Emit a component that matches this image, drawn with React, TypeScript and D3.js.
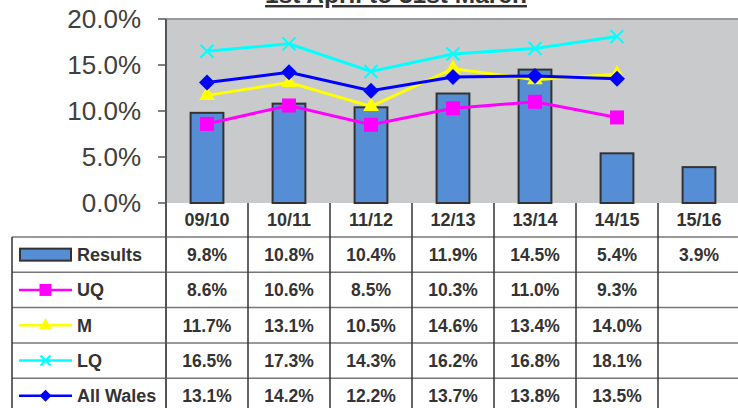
import React from 'react';
import * as d3 from 'd3';

const categories = ['09/10', '10/11', '11/12', '12/13', '13/14', '14/15', '15/16'];
const results = [9.8, 10.8, 10.4, 11.9, 14.5, 5.4, 3.9];
const uq = [8.6, 10.6, 8.5, 10.3, 11.0, 9.3, null];
const m = [11.7, 13.1, 10.5, 14.6, 13.4, 14.0, null];
const lq = [16.5, 17.3, 14.3, 16.2, 16.8, 18.1, null];
const allWales = [13.1, 14.2, 12.2, 13.7, 13.8, 13.5, null];
const yTicks = [0, 5, 10, 15, 20];

type Row = { name: string; values: (number | null)[]; color: string; kind: string };

const lineSeries: Row[] = [
  { name: 'UQ', values: uq, color: '#FF00FF', kind: 'square' },
  { name: 'M', values: m, color: '#FFFF00', kind: 'triangle' },
  { name: 'LQ', values: lq, color: '#00FFFF', kind: 'x' },
  { name: 'All Wales', values: allWales, color: '#0000FF', kind: 'diamond' },
];

const rows: Row[] = [{ name: 'Results', values: results, color: '#558ED5', kind: 'bar' }, ...lineSeries];

const W = 738;
const H = 408;
const plot = { left: 166, right: 740, top: 19, bottom: 203 };
const headerBottom = 237;
const rowH = 35.3;
const tableLeft = 12;
const font = '"Liberation Sans", Arial, sans-serif';
const textColor = '#333333';

function Marker({ kind, color, x, y, s }: { kind: string; color: string; x: number; y: number; s: number }) {
  if (kind === 'square') {
    return <path d={d3.symbol(d3.symbolSquare, s * s)()!} transform={`translate(${x},${y})`} fill={color} />;
  }
  if (kind === 'triangle') {
    return (
      <path
        d={d3.symbol(d3.symbolTriangle, (Math.sqrt(3) / 4) * s * s * 1.1)()!}
        transform={`translate(${x},${y})`}
        fill={color}
      />
    );
  }
  if (kind === 'diamond') {
    const side = s / Math.SQRT2;
    return (
      <path d={d3.symbol(d3.symbolSquare, side * side)()!} transform={`translate(${x},${y}) rotate(45)`} fill={color} />
    );
  }
  const h = s / 2;
  return (
    <path
      d={`M${x - h},${y - h}L${x + h},${y + h}M${x - h},${y + h}L${x + h},${y - h}`}
      stroke={color}
      strokeWidth={2}
      fill="none"
    />
  );
}

export default function App() {
  const x = d3.scaleBand<string>().domain(categories).range([plot.left, plot.right]).padding(0);
  const y = d3.scaleLinear().domain([0, 20]).range([plot.bottom, plot.top]);
  const barW = x.bandwidth() * 0.4;
  const cx = (c: string) => (x(c) ?? 0) + x.bandwidth() / 2;

  const line = d3
    .line<[string, number | null]>()
    .defined((d) => d[1] !== null)
    .x((d) => cx(d[0]))
    .y((d) => y(d[1] as number));

  const markerSize: Record<string, number> = { square: 14, triangle: 15, x: 13, diamond: 16 };
  const legendSize: Record<string, number> = { square: 12, triangle: 12, x: 10, diamond: 12 };

  const rowTop = (i: number) => headerBottom + i * rowH;

  return (
    <svg width={W} height={H} style={{ position: 'absolute', left: 0, top: 0, background: '#fff' }}>
      {/* title (mostly cut off at top) */}
      <text
        x={396}
        y={3}
        textAnchor="middle"
        fontFamily={font}
        fontWeight="bold"
        fontSize={24.5}
        fill={textColor}
        style={{ textDecoration: 'underline' }}
      >
        1st April to 31st March
      </text>

      {/* plot area */}
      <rect x={plot.left} y={plot.top} width={plot.right - plot.left} height={plot.bottom - plot.top} fill="#C9CACC" />
      <line x1={plot.left} x2={plot.right} y1={plot.top} y2={plot.top} stroke="#999" strokeWidth={2} />

      {/* y axis */}
      {yTicks.map((t) => (
        <g key={t}>
          <line x1={158} x2={plot.left} y1={y(t)} y2={y(t)} stroke="#555" strokeWidth={1.5} />
          <text x={141} y={y(t)} dy="0.36em" textAnchor="end" fontFamily={font} fontSize={26} fill="#404040">
            {t.toFixed(1)}%
          </text>
        </g>
      ))}

      {/* bars */}
      {results.map((v, i) => (
        <rect
          key={i}
          x={cx(categories[i]) - barW / 2}
          y={y(v)}
          width={barW}
          height={y(0) - y(v)}
          fill="#558ED5"
          stroke="#333"
          strokeWidth={2}
        />
      ))}

      {/* lines */}
      {lineSeries.map((s) => (
        <g key={s.name}>
          <path
            d={line(categories.map((c, i) => [c, s.values[i]] as [string, number | null]))!}
            fill="none"
            stroke={s.color}
            strokeWidth={3}
          />
          {s.values.map((v, i) =>
            v === null ? null : (
              <Marker key={i} kind={s.kind} color={s.color} x={cx(categories[i])} y={y(v)} s={markerSize[s.kind]} />
            )
          )}
        </g>
      ))}

      {/* table header */}
      {categories.map((c) => (
        <text
          key={c}
          x={cx(c)}
          y={(plot.bottom + headerBottom) / 2}
          dy="0.36em"
          textAnchor="middle"
          fontFamily={font}
          fontWeight="bold"
          fontSize={18}
          fill={textColor}
        >
          {c}
        </text>
      ))}

      {/* table rows */}
      {rows.map((r, i) => {
        const cy = rowTop(i) + rowH / 2;
        return (
          <g key={r.name}>
            {r.kind === 'bar' ? (
              <rect x={20} y={cy - 6} width={51} height={12} fill={r.color} stroke="#333" strokeWidth={2} />
            ) : (
              <g>
                <line x1={19} x2={72} y1={cy} y2={cy} stroke={r.color} strokeWidth={2.5} />
                <Marker kind={r.kind} color={r.color} x={45.5} y={cy} s={legendSize[r.kind]} />
              </g>
            )}
            <text x={77} y={cy} dy="0.36em" fontFamily={font} fontWeight="bold" fontSize={18} fill={textColor}>
              {r.name}
            </text>
            {r.values.map((v, j) =>
              v === null ? null : (
                <text
                  key={j}
                  x={cx(categories[j])}
                  y={cy}
                  dy="0.36em"
                  textAnchor="middle"
                  fontFamily={font}
                  fontWeight="bold"
                  fontSize={17.5}
                  fill={textColor}
                >
                  {v.toFixed(1)}%
                </text>
              )
            )}
          </g>
        );
      })}

      {/* table grid */}
      {d3.range(rows.length + 1).map((i) => (
        <line key={i} x1={tableLeft} x2={plot.right} y1={rowTop(i)} y2={rowTop(i)} stroke="#777" strokeWidth={1.5} />
      ))}
      <line x1={tableLeft} x2={tableLeft} y1={headerBottom} y2={H} stroke="#333" strokeWidth={1.5} />
      {categories.map((c) => (
        <line key={c} x1={x(c)} x2={x(c)} y1={plot.bottom} y2={H} stroke="#333" strokeWidth={1.5} />
      ))}
      <line x1={plot.left} x2={plot.left} y1={plot.top} y2={H} stroke="#555" strokeWidth={2} />
    </svg>
  );
}
